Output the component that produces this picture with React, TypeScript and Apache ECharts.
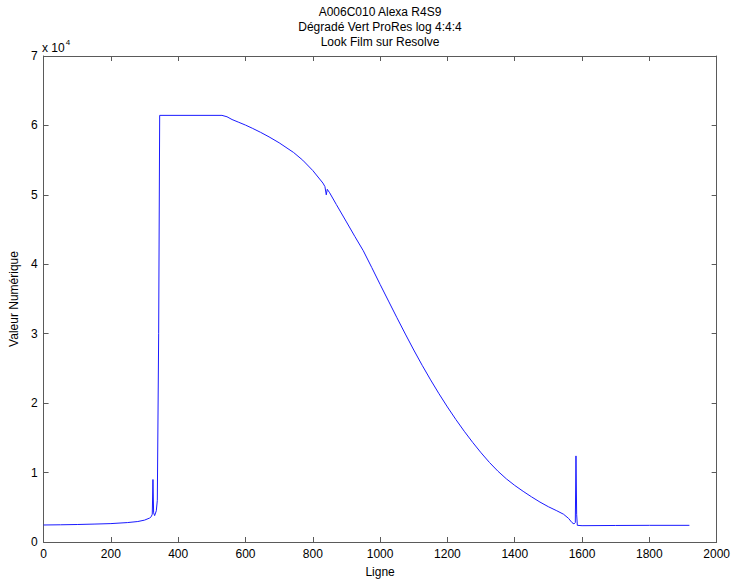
import React, { useEffect, useRef } from "react";
import * as echarts from "echarts";

const titleLines = ["A006C010 Alexa R4S9", "Dégradé Vert ProRes log 4:4:4", "Look Film sur Resolve"];
const xLabel = "Ligne";
const yLabel = "Valeur Numérique";

const lineIndex = [
  0, 50, 100, 150, 200, 250, 280, 300, 315, 320, 323, 325, 327, 330, 335, 338, 342, 345,
  530, 545, 560, 580, 600, 620, 645, 670, 700, 743, 770, 800, 830, 836, 840, 843, 850,
  870, 900, 925, 950, 975, 1000, 1025, 1050, 1075, 1100, 1125, 1150, 1175, 1200, 1225,
  1250, 1275, 1300, 1325, 1350, 1375, 1400, 1425, 1450, 1475, 1500, 1525, 1545, 1560,
  1570, 1576, 1580, 1582, 1584, 1586, 1600, 1700, 1800, 1919,
];
const values = [
  2450, 2480, 2520, 2580, 2650, 2800, 2950, 3150, 3450, 3650, 4000, 9000, 4200, 3800, 4500, 6000, 30000, 61450,
  61450, 61250, 60850, 60450, 60050, 59600, 59000, 58350, 57500, 56100, 55000, 53500, 51700, 51200, 50000, 50800, 50300,
  48600, 46100, 44000, 41950, 39550, 37100, 34700, 32300, 29950, 27650, 25450, 23350, 21350, 19450, 17650,
  15950, 14350, 12850, 11450, 10200, 9100, 8150, 7300, 6500, 5750, 5080, 4500, 4000, 3400,
  2800, 2600, 2800, 12400, 4000, 2400, 2350, 2380, 2400, 2400,
];

const xMin = 0, xMax = 2000, xStep = 200;
const yMin = 0, yMax = 70000, yStep = 10000;

export default function App() {
  const ref = useRef<HTMLDivElement>(null);
  useEffect(() => {
    if (!ref.current) return;
    const chart = echarts.init(ref.current, undefined, { renderer: "svg" });
    const font = "'Liberation Sans', Arial, Helvetica, sans-serif";
    const axisColor = "#5a5a5a";
    const data = lineIndex.map((x, i) => [x, values[i]]);
    const common = {
      axisLine: { show: true, onZero: false, lineStyle: { color: axisColor, width: 1 } },
      axisTick: { show: true, inside: true, length: 5, lineStyle: { color: axisColor } },
      splitLine: { show: false },
    };
    chart.setOption({
      animation: false,
      backgroundColor: "#ffffff",
      grid: { left: 42, right: 15, top: 56, bottom: 36, containLabel: false },
      graphic: [
        ...titleLines.map((t, i) => ({
          type: "text",
          x: 380,
          y: 6 + i * 15,
          style: { text: t, fill: "#000", font: `12px ${font}`, textAlign: "center", textVerticalAlign: "top" },
        })),
        {
          type: "text",
          left: 42,
          top: 38,
          style: {
            text: "{a|x 10}{b|4}",
            rich: {
              a: { fontSize: 12, fontFamily: font, fill: "#000", verticalAlign: "bottom" },
              b: { fontSize: 8, fontFamily: font, fill: "#000", verticalAlign: "top", padding: [0, 0, 8, 1] },
            },
          },
        },
      ],
      xAxis: [
        {
          type: "value", min: xMin, max: xMax, interval: xStep, position: "bottom",
          name: xLabel, nameLocation: "middle", nameGap: 24,
          nameTextStyle: { color: "#000", fontSize: 12, fontFamily: font },
          axisLabel: { color: "#000", fontSize: 12, fontFamily: font, margin: 6, formatter: (v: number) => String(v) },
          ...common,
        },
        {
          type: "value", min: xMin, max: xMax, interval: xStep, position: "top",
          axisLabel: { show: false }, ...common,
        },
      ],
      yAxis: [
        {
          type: "value", min: yMin, max: yMax, interval: yStep, position: "left",
          name: yLabel, nameLocation: "middle", nameGap: 21,
          nameTextStyle: { color: "#000", fontSize: 12, fontFamily: font },
          axisLabel: {
            color: "#000", fontSize: 12, fontFamily: font, margin: 6,
            formatter: (v: number) => String(v / 10000),
          },
          ...common,
        },
        {
          type: "value", min: yMin, max: yMax, interval: yStep, position: "right",
          axisLabel: { show: false }, ...common,
        },
      ],
      series: [
        {
          type: "line",
          data,
          showSymbol: false,
          symbol: "none",
          smooth: false,
          lineStyle: { color: "#1a1aff", width: 1 },
          xAxisIndex: 0,
          yAxisIndex: 0,
        },
      ],
    });
    return () => chart.dispose();
  }, []);
  return (
    <div
      ref={ref}
      style={{ position: "fixed", left: 0, top: 0, width: 733, height: 583, background: "#fff" }}
    />
  );
}
